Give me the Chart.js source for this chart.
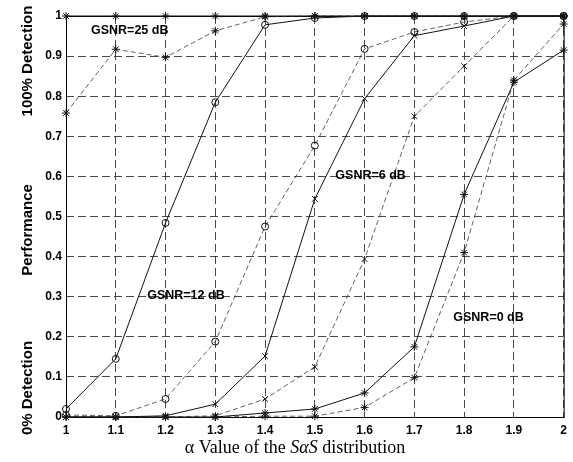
<!DOCTYPE html>
<html>
<head>
<meta charset="utf-8">
<script src="https://cdn.jsdelivr.net/npm/chart.js@4/dist/chart.umd.min.js"></script>
<style>
  html, body { margin: 0; padding: 0; background: #fff; }
  #wrap { width: 573px; height: 462px; }
</style>
</head>
<body>
<div id="wrap"><canvas id="perfChart"></canvas></div>
<script>
// alpha values of the SaS distribution
const alpha = [1, 1.1, 1.2, 1.3, 1.4, 1.5, 1.6, 1.7, 1.8, 1.9, 2];

// performance curves (solid / dashed for each GSNR)
const gsnr25Solid  = [1, 1, 1, 1, 1, 1, 1, 1, 1, 1, 1];
const gsnr25Dashed = [0.758, 0.917, 0.897, 0.963, 0.998, 1, 1, 1, 1, 1, 1];
const gsnr12Solid  = [0.02, 0.145, 0.484, 0.785, 0.978, 0.995, 1, 1, 1, 1, 1];
const gsnr12Dashed = [0.005, 0.003, 0.045, 0.188, 0.475, 0.677, 0.918, 0.96, 0.985, 1, 1];
const gsnr6Solid   = [0, 0, 0.003, 0.032, 0.152, 0.544, 0.794, 0.951, 0.975, 1, 1];
const gsnr6Dashed  = [0, 0, 0, 0.003, 0.045, 0.125, 0.394, 0.75, 0.875, 1, 1];
const gsnr0Solid   = [0, 0, 0, 0, 0.01, 0.02, 0.06, 0.175, 0.555, 0.835, 0.915];
const gsnr0Dashed  = [0, 0, 0, 0, 0.002, 0.002, 0.024, 0.098, 0.41, 0.84, 0.98];

// tick labels
const xTickLabels = ['1', '1.1', '1.2', '1.3', '1.4', '1.5', '1.6', '1.7', '1.8', '1.9', '2'];
const yTickLabels = ['0', '0.1', '0.2', '0.3', '0.4', '0.5', '0.6', '0.7', '0.8', '0.9', '1'];

// curve labels, in data units
const noteText = ['GSNR=25 dB', 'GSNR=12 dB', 'GSNR=6 dB', 'GSNR=0 dB'];
const noteX    = [1.128, 1.241, 1.612, 1.849];
const noteY    = [0.963, 0.304, 0.603, 0.249];

const sans = '"Liberation Sans", Arial, sans-serif';
const serif = '"Liberation Serif", "Times New Roman", serif';

function pts(ys) {
    return ys.map((y, i) => ({ x: alpha[i], y: y }));
}

function series(ys, dashed, style) {
    return {
        data: pts(ys),
        borderColor: dashed ? '#3a3a3a' : '#111',
        borderWidth: dashed ? 0.8 : 1,
        borderDash: dashed ? [5, 3] : [],
        pointStyle: style,
        pointRadius: style === 'circle' ? 3.5 : 4,
        pointBorderColor: '#111',
        pointBackgroundColor: 'rgba(255,255,255,0)',
        pointBorderWidth: 1,
        tension: 0,
        fill: false,
        clip: false
    };
}

// texts, y titles and the plot frame
const decorations = {
    id: 'decorations',
    beforeDatasetsDraw(chart) {
        const ctx = chart.ctx;
        const a = chart.chartArea;
        ctx.save();
        ctx.strokeStyle = '#000';
        ctx.lineWidth = 1;
        ctx.setLineDash([]);
        ctx.strokeRect(a.left + 0.5, a.top + 0.5, a.right - a.left, a.bottom - a.top);
        ctx.restore();
    },
    afterDraw(chart) {
        const ctx = chart.ctx;
        const xs = chart.scales.x, ys = chart.scales.y;
        ctx.save();

        // curve labels
        ctx.fillStyle = '#000';
        ctx.font = 'bold 12.5px ' + sans;
        ctx.textAlign = 'center';
        ctx.textBaseline = 'middle';
        noteText.forEach((t, i) => {
            ctx.fillText(t, xs.getPixelForValue(noteX[i]), ys.getPixelForValue(noteY[i]));
        });

        // y titles
        ctx.font = 'bold 15px ' + sans;
        const yTitles = [['100% Detection', 61], ['Performance', 230], ['0% Detection', 388]];
        yTitles.forEach(([t, cy]) => {
            ctx.save();
            ctx.translate(28, cy);
            ctx.rotate(-Math.PI / 2);
            ctx.fillText(t, 0, 0);
            ctx.restore();
        });

        // x title with italic SaS
        const parts = [['\u03b1 Value of the ', ''], ['S\u03b1S', 'italic '], [' distribution', '']];
        let total = 0;
        parts.forEach(p => {
            ctx.font = p[1] + '18px ' + serif;
            total += ctx.measureText(p[0]).width;
        });
        let x = 295 - total / 2;
        ctx.textAlign = 'left';
        ctx.textBaseline = 'alphabetic';
        parts.forEach(p => {
            ctx.font = p[1] + '18px ' + serif;
            ctx.fillText(p[0], x, 453);
            x += ctx.measureText(p[0]).width;
        });
        ctx.restore();
    }
};

const ctx = document.getElementById('perfChart').getContext('2d');
new Chart(ctx, {
    type: 'line',
    data: {
        datasets: [
            series(gsnr25Solid, false, 'star'),
            series(gsnr25Dashed, true, 'star'),
            series(gsnr12Solid, false, 'circle'),
            series(gsnr12Dashed, true, 'circle'),
            series(gsnr6Solid, false, 'crossRot'),
            series(gsnr6Dashed, true, 'crossRot'),
            series(gsnr0Solid, false, 'star'),
            series(gsnr0Dashed, true, 'star')
        ]
    },
    options: {
        responsive: true,
        maintainAspectRatio: false,
        animation: false,
        layout: { padding: { left: 0, right: 5, top: 16, bottom: 0 } },
        plugins: { legend: { display: false }, tooltip: { enabled: false } },
        scales: {
            x: {
                type: 'linear',
                min: 1, max: 2,
                afterFit(s) { s.height = 45; },
                ticks: {
                    stepSize: 0.1,
                    color: '#000',
                    font: { family: sans, weight: 'bold', size: 12 },
                    padding: 6,
                    maxRotation: 0,
                    callback: (v, i) => xTickLabels[i]
                },
                grid: { color: '#1a1a1a', lineWidth: 0.8, drawTicks: false },
                border: { display: false, dash: [8, 4] }
            },
            y: {
                min: 0, max: 1,
                afterFit(s) { s.width = 66; },
                ticks: {
                    stepSize: 0.1,
                    color: '#000',
                    font: { family: sans, weight: 'bold', size: 12 },
                    padding: 4,
                    callback: (v, i) => yTickLabels[i]
                },
                grid: { color: '#1a1a1a', lineWidth: 0.8, drawTicks: false },
                border: { display: false, dash: [8, 4] }
            }
        }
    },
    plugins: [decorations]
});
</script>
</body>
</html>
